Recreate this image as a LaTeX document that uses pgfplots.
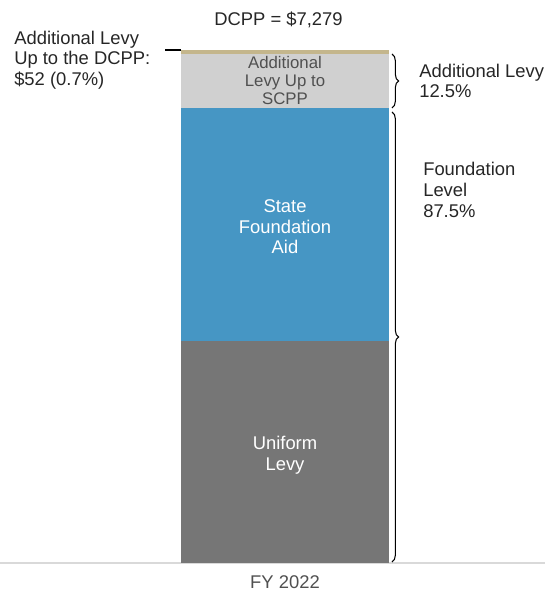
\documentclass[border=0pt]{standalone}
\usepackage{fontspec}
\setmainfont{Liberation Sans}
\usepackage{pgfplots}
\pgfplotsset{compat=1.18}
\usetikzlibrary{decorations.pathreplacing}
\definecolor{uni}{HTML}{767676}
\definecolor{sfa}{HTML}{4696C4}
\definecolor{scpp}{HTML}{D0D0D0}
\definecolor{dcpp}{HTML}{C4B68C}
\definecolor{txt}{HTML}{262626}
\definecolor{txtg}{HTML}{505050}
\begin{document}
\begin{tikzpicture}
\useasboundingbox (0pt,-21.75pt) rectangle (415.5pt,422.25pt);
\begin{axis}[at={(0pt,0pt)}, anchor=south west, scale only axis,
  width=408.75pt, height=384.75pt,
  xmin=-2.7404, xmax=2.5, ymin=0, ymax=7279,
  hide axis, clip=false, ybar stacked, bar width=2]
\addplot[fill=uni, draw=none] coordinates {(0,3150)};
\addplot[fill=sfa, draw=none] coordinates {(0,3306)};
\addplot[fill=scpp, draw=none] coordinates {(0,771)};
\addplot[fill=dcpp, draw=none] coordinates {(0,52)};
\draw[color=black!15, line width=1.5pt] (rel axis cs:0,0) -- (rel axis cs:1,0);
\end{axis}
\begin{scope}[x=0.75pt, y=-0.75pt, shift={(0pt,422.25pt)}]
\fontsize{13.8}{15.5}\selectfont
\node[anchor=base, text=txt, inner sep=0pt] at (278.5,26) {DCPP = \$7,279};
\node[anchor=west, align=left, text=txt, inner sep=0pt] at (14,60) {Additional Levy\\Up to the DCPP:\\\$52 (0.7\%)};
\draw[black, line width=1pt] (165,50) -- (181,50);
\node[align=center, text=txtg, inner sep=0pt, font=\fontsize{12.6}{13.5}\selectfont] at (285,81) {Additional\\Levy Up to\\SCPP};
\node[align=center, text=white, inner sep=0pt] at (285,227) {State\\Foundation\\Aid};
\node[align=center, text=white, inner sep=0pt] at (285,455) {Uniform\\Levy};
\node[anchor=west, align=left, text=txt, inner sep=0pt] at (419,81) {Additional Levy\\12.5\%};
\node[anchor=west, align=left, text=txt, inner sep=0pt] at (423,190) {Foundation\\Level\\87.5\%};
\node[text=txtg, inner sep=0pt] at (285,582) {FY 2022};
\draw[black, line width=0.8pt, decorate, decoration={brace, amplitude=5}] (392,54) -- (392,108);
\draw[black, line width=0.8pt, decorate, decoration={brace, amplitude=5}] (392,112) -- (392,562);
\end{scope}
\end{tikzpicture}
\end{document}
